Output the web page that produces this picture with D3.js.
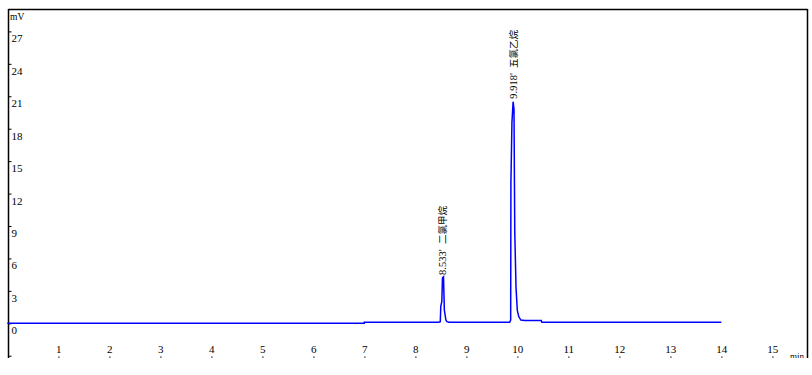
<!DOCTYPE html>
<html><head><meta charset="utf-8">
<script src="https://cdn.jsdelivr.net/npm/d3@7"></script>
<style>
html,body{margin:0;padding:0;background:#fff;}
svg{display:block;}
text{font-family:"Liberation Serif","Times New Roman",serif;fill:#000;}
.cjk{font-family:"Noto Sans CJK SC",sans-serif;}
</style>
</head><body>
<script>
// ---- data ----
const yTicks = [-3, 0, 3, 6, 9, 12, 15, 18, 21, 24, 27];
const xTicks = [1, 2, 3, 4, 5, 6, 7, 8, 9, 10, 11, 12, 13, 14, 15];
const times = [0, 7.0, 7.0, 8.46, 8.49, 8.50, 8.52, 8.533, 8.553, 8.57, 8.60, 8.62, 8.66,
  9.85, 9.87, 9.875, 9.895, 9.918, 9.935, 9.95, 9.975, 10.0, 10.03, 10.07, 10.15, 10.47, 10.48, 14.0];
const signal = [0, 0, 0.1, 0.1, 0.15, 1.6, 2.0, 4.2, 4.3, 1.2, 0.3, 0.15, 0.1,
  0.1, 0.3, 13.0, 18.6, 20.5, 19.8, 8.5, 3.3, 1.2, 0.6, 0.3, 0.25, 0.25, 0.1, 0.1];
const peakTimes = [8.533, 9.918];
const peakHeights = [4.2, 20.5];
const peakNames = ["二氯甲烷", "五氯乙烷"];

const W = 812, H = 375;
const svg = d3.select("body").append("svg").attr("width", W).attr("height", H);
svg.append("defs").append("clipPath").attr("id", "clip")
  .append("rect").attr("x", 0).attr("y", 0).attr("width", W).attr("height", 358);
const root = svg.append("g").attr("clip-path", "url(#clip)");

const x = d3.scaleLinear().domain([0, 15]).range([7.3, 772.3]);
const y = d3.scaleLinear().domain([0, 27]).range([323.3, 31.4]);

// frame
root.append("line").attr("x1", 8.5).attr("x2", 807.5).attr("y1", 9.5).attr("y2", 9.5).attr("stroke", "#000").attr("stroke-width", 1.5);
root.append("line").attr("x1", 8.5).attr("x2", 8.5).attr("y1", 9).attr("y2", 362).attr("stroke", "#000").attr("stroke-width", 1.5);
root.append("line").attr("x1", 807.5).attr("x2", 807.5).attr("y1", 9).attr("y2", 362).attr("stroke", "#000").attr("stroke-width", 1.5);

// y axis
const yAxis = d3.axisRight(y).tickValues(yTicks).tickSize(3).tickFormat(d => d < 0 ? "-" + Math.abs(d) : String(d));
const gy = root.append("g").attr("transform", "translate(8.5,0)").call(yAxis);
gy.select(".domain").remove();
gy.selectAll(".tick line").attr("stroke", "#000");
gy.selectAll(".tick text").attr("x", 3).attr("dy", "0.95em").attr("font-size", 11)
  .attr("text-anchor", "start").style("font-family", "Liberation Serif, serif");

root.append("text").attr("x", 10).attr("y", 20).attr("font-size", 9.5).text("mV");

// x axis
const xAxis = d3.axisTop(x).tickValues(xTicks).tickSize(0).tickFormat(d3.format("d"));
const gx = root.append("g").attr("transform", "translate(0,353)").call(xAxis);
gx.select(".domain").remove();
gx.selectAll(".tick text").attr("y", 0).attr("dy", 0).attr("font-size", 11)
  .style("font-family", "Liberation Serif, serif");
gx.selectAll(".tick").append("rect").attr("x", -0.5).attr("y", 3.5).attr("width", 1.2).attr("height", 1.2).attr("fill", "#000");

root.append("text").attr("x", 790).attr("y", 359).attr("font-size", 9).text("min");

// signal
const pts = times.map((t, i) => [t, signal[i]]);
const line = d3.line().x(d => x(d[0])).y(d => y(d[1]));
root.append("path").datum(pts).attr("d", line).attr("fill", "none")
  .attr("stroke", "#0000ff").attr("stroke-width", 1.5);

// peak labels
peakTimes.forEach((t, i) => {
  const g = root.append("text")
    .attr("transform", `translate(${x(t) + 3.5},${y(peakHeights[i]) - 3}) rotate(-90)`)
    .attr("font-size", 10.5).style("white-space", "pre");
  g.append("tspan").text(t.toFixed(3) + "'  ");
  g.append("tspan").attr("class", "cjk").attr("font-size", 9.5).text(peakNames[i]);
});
</script>
</body></html>
